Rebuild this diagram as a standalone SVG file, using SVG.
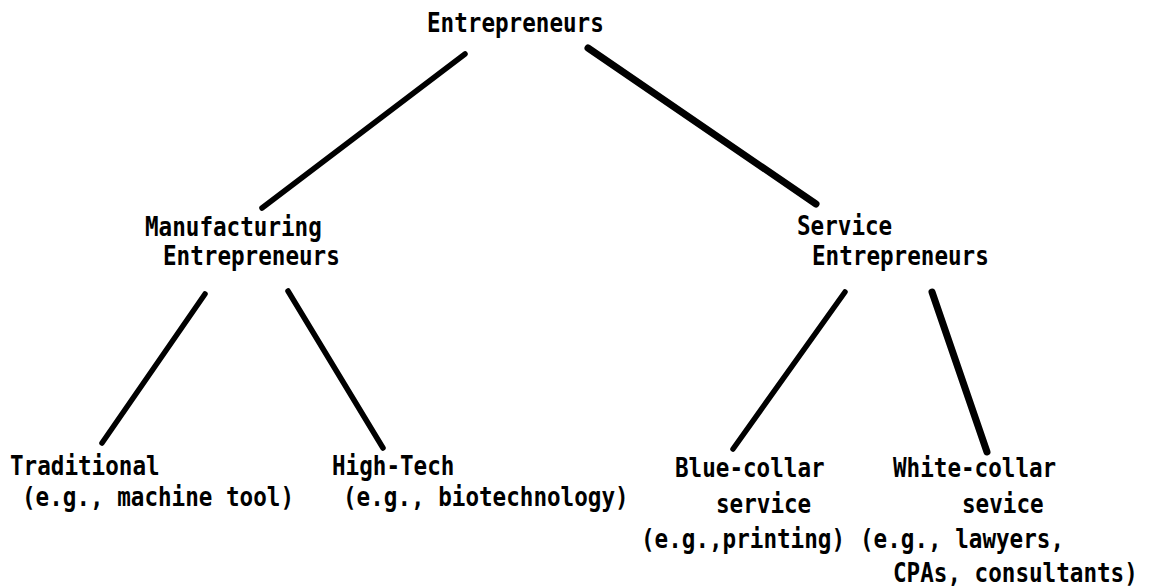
<svg xmlns="http://www.w3.org/2000/svg" width="1150" height="588" viewBox="0 0 1150 588">
  <style>
    text { font-family: "DejaVu Sans Mono", "Liberation Mono", monospace; font-weight: bold; font-size: 22.6px; fill: #000; }
    .edge { stroke: #000; stroke-linecap: round; fill: none; }
    .thin { stroke-width: 5.5; }
    .thick { stroke-width: 7; }
  </style>
  <rect width="1150" height="588" fill="#fff"/>

  <!-- tree branches -->
  <g id="connectors">
    <line class="edge thin" x1="465" y1="54" x2="262" y2="208"/>
    <line class="edge thick" x1="588" y1="48" x2="816" y2="204"/>
    <line class="edge thin" x1="205" y1="294" x2="102" y2="443"/>
    <line class="edge thin" x1="288" y1="291" x2="383" y2="448"/>
    <line class="edge thin" x1="845" y1="292" x2="733" y2="449"/>
    <line class="edge thick" x1="932" y1="292" x2="987" y2="452"/>
  </g>

  <!-- labels are stretched vertically for the tall typewriter look -->
  <g id="root">
    <text transform="translate(427 32) scale(1 1.15)">Entrepreneurs</text>
  </g>

  <g id="manufacturing">
    <text transform="translate(145 236) scale(1 1.15)">Manufacturing</text>
    <text transform="translate(163 265) scale(1 1.15)">Entrepreneurs</text>
  </g>

  <g id="service">
    <text transform="translate(797 235) scale(1 1.15)">Service</text>
    <text transform="translate(812 265) scale(1 1.15)">Entrepreneurs</text>
  </g>

  <g id="traditional">
    <text transform="translate(10 475) scale(1 1.15)">Traditional</text>
    <text transform="translate(22 506) scale(1 1.15)">(e.g., machine tool)</text>
  </g>

  <g id="high-tech">
    <text transform="translate(332 475) scale(1 1.15)">High-Tech</text>
    <text transform="translate(343 506) scale(1 1.15)">(e.g., biotechnology)</text>
  </g>

  <g id="blue-collar">
    <text transform="translate(675 477) scale(1 1.15)">Blue-collar</text>
    <text transform="translate(716 513) scale(1 1.15)">service</text>
    <text transform="translate(641 548) scale(1 1.15)">(e.g.,printing)</text>
  </g>

  <g id="white-collar">
    <text transform="translate(893 477) scale(1 1.15)">White-collar</text>
    <text transform="translate(962 513) scale(1 1.15)">sevice</text>
    <text transform="translate(860 548) scale(1 1.15)">(e.g., lawyers,</text>
    <text transform="translate(893 582) scale(1 1.15)">CPAs, consultants)</text>
  </g>
</svg>
